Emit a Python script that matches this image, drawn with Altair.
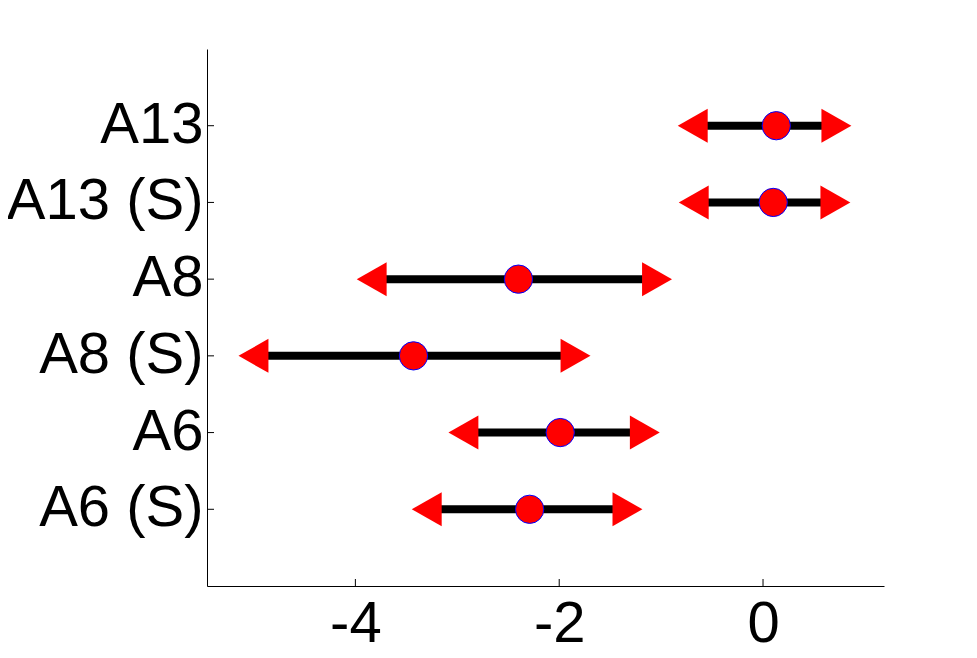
import altair as alt
import pandas as pd

labels = ["A13", "A13 (S)", "A8", "A8 (S)", "A6", "A6 (S)"]
estimate = [0.13, 0.10, -2.40, -3.43, -1.99, -2.29]
lower = [-0.69, -0.68, -3.84, -5.00, -2.94, -3.30]
upper = [0.72, 0.71, -1.04, -1.84, -1.16, -1.33]
x_ticks = [-4, -2, 0]
x_domain = [-5.456, 1.187]

df = pd.DataFrame({"label": labels, "est": estimate, "lo": lower, "hi": upper})
ticks_df = pd.DataFrame({"t": x_ticks})

W, H = 677, 537
FONT = "Liberation Sans"

x_scale = alt.Scale(domain=x_domain, nice=False, zero=False)
y_scale = alt.Scale(domain=labels, padding=1)

x_axis = alt.Axis(values=x_ticks, grid=False, ticks=False, tickSize=0, domainColor="black",
                  domainWidth=1, labelFont=FONT, labelFontSize=58, labelColor="black",
                  labelPadding=9, title=None, labelExpr="toString(datum.value)")
y_axis = alt.Axis(grid=False, ticks=False, tickSize=0, domainColor="black", domainWidth=1,
                  labelFont=FONT, labelFontSize=58, labelColor="black", labelPadding=4,
                  title=None, labelLimit=400)

base = alt.Chart(df)

bars = base.mark_rule(color="black", strokeWidth=8).encode(
    x=alt.X("lo:Q", scale=x_scale, axis=x_axis),
    x2="hi:Q",
    y=alt.Y("label:N", scale=y_scale, axis=y_axis, sort=labels),
)

left_tri = base.mark_point(
    shape="M-0.88,0L0.88,-1L0.88,1Z", filled=True, color="red", opacity=1, size=1156
).encode(x=alt.X("lo:Q", scale=x_scale), y=alt.Y("label:N", scale=y_scale, sort=labels))

right_tri = base.mark_point(
    shape="M0.88,0L-0.88,-1L-0.88,1Z", filled=True, color="red", opacity=1, size=1156
).encode(x=alt.X("hi:Q", scale=x_scale), y=alt.Y("label:N", scale=y_scale, sort=labels))

dots = base.mark_point(
    shape="circle", filled=True, fill="red", stroke="blue", strokeWidth=1, opacity=1, size=800
).encode(x=alt.X("est:Q", scale=x_scale), y=alt.Y("label:N", scale=y_scale, sort=labels))

xticks = alt.Chart(ticks_df).mark_rule(color="black", strokeWidth=1).encode(
    x=alt.X("t:Q", scale=x_scale), y=alt.value(H), y2=alt.value(H - 7)
)

yticks = base.mark_rule(color="black", strokeWidth=1).encode(
    y=alt.Y("label:N", scale=y_scale, sort=labels), x=alt.value(0), x2=alt.value(7)
)

chart = alt.layer(bars, xticks, yticks, left_tri, right_tri, dots).properties(
    width=W, height=H,
    background="white",
    autosize=alt.AutoSizeParams(type="none"),
    padding={"left": 199, "top": 41, "right": 85, "bottom": 64},
).configure_view(strokeWidth=0, stroke="transparent")

chart.save("out.html", embed_options={"renderer": "svg", "actions": False})
